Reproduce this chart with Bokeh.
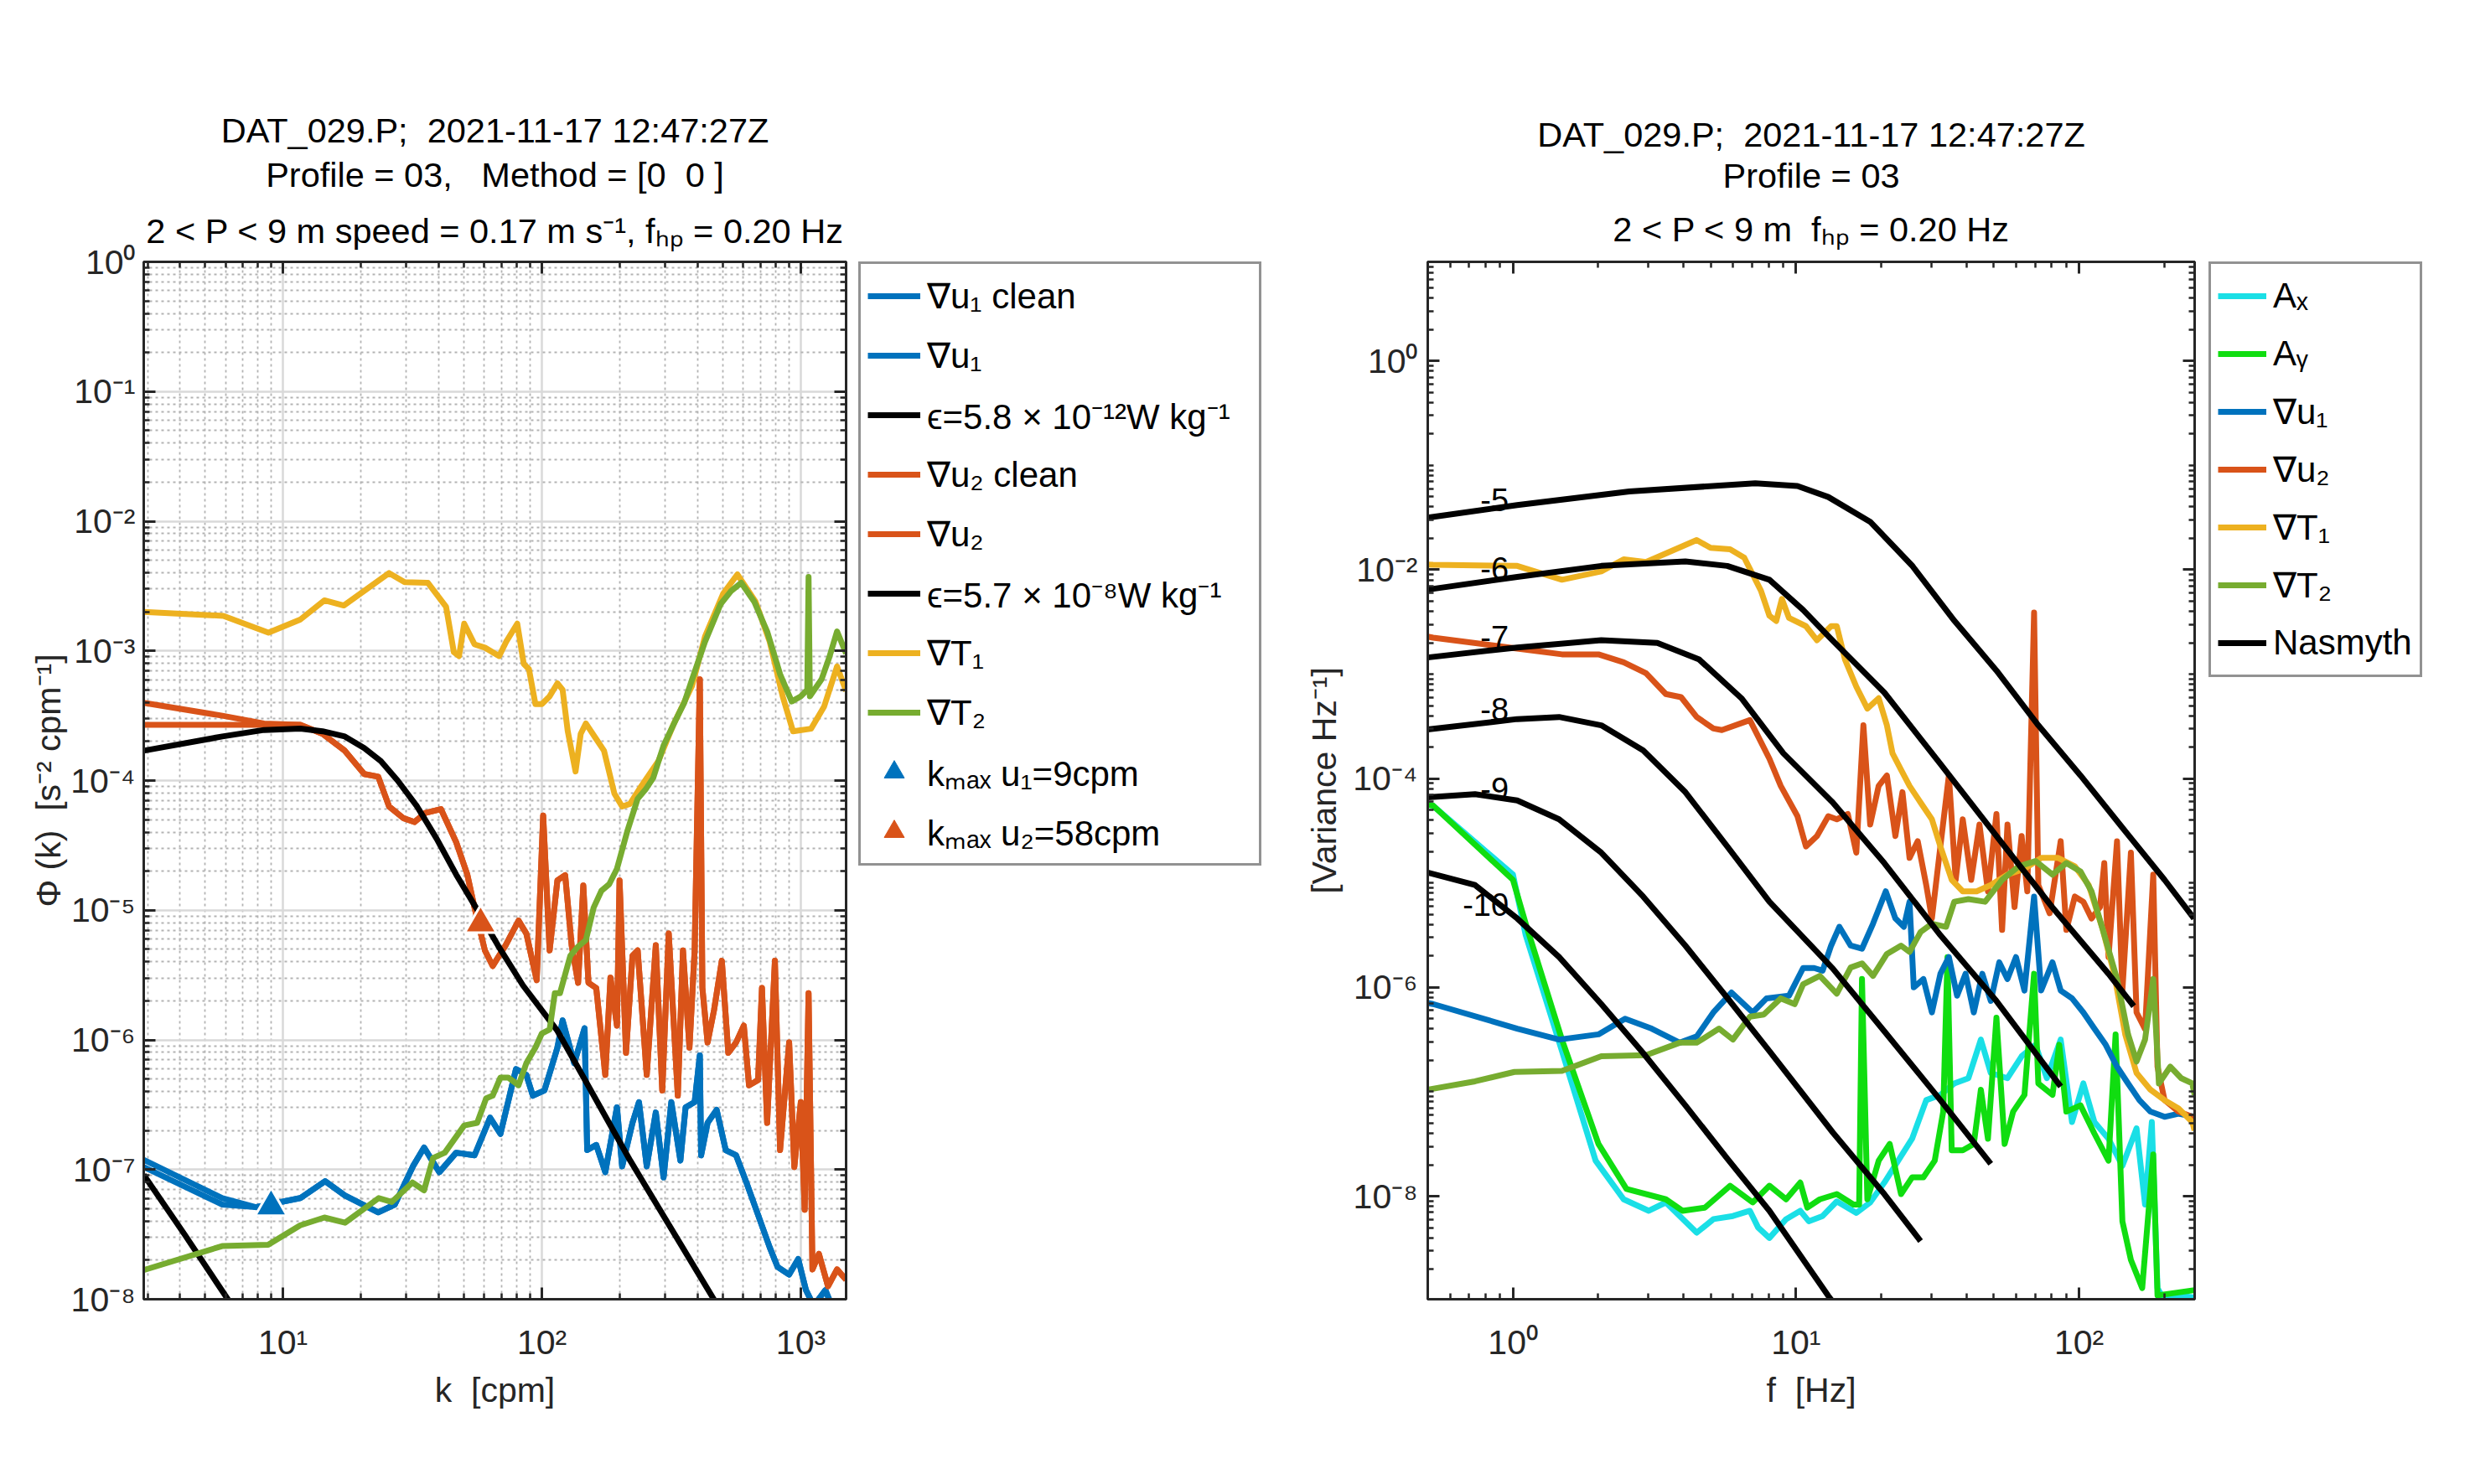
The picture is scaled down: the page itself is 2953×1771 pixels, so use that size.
import numpy as np
from bokeh.plotting import figure
from bokeh.models import (Range1d, LogAxis, FixedTicker, CustomJSTickFormatter,
                          Legend, LegendItem, Title)
from bokeh.layouts import row
from bokeh.embed import file_html
from bokeh.resources import INLINE
from bokeh.core.properties import value

# ============ LEFT PANEL DATA: (log10 k [cpm], log10 Phi) ============
gradT1_left = [(0.462,-2.70),(0.77,-2.73),(0.944,-2.86),(1.066,-2.76),(1.16,-2.61),(1.235,-2.65),
    (1.41,-2.40),(1.47,-2.47),(1.56,-2.475),(1.63,-2.66),(1.66,-3.01),(1.68,-3.04),(1.70,-2.79),
    (1.74,-2.95),(1.78,-2.975),(1.835,-3.04),(1.862,-2.93),(1.905,-2.79),(1.93,-3.10),(1.95,-3.14),
    (1.975,-3.41),(2.0,-3.41),(2.03,-3.35),(2.06,-3.25),(2.08,-3.30),(2.10,-3.62),(2.13,-3.93),
    (2.15,-3.64),(2.17,-3.56),(2.21,-3.68),(2.24,-3.77),(2.28,-4.10),(2.31,-4.20),(2.34,-4.18),
    (2.385,-4.04),(2.45,-3.85),(2.51,-3.56),(2.58,-3.27),(2.63,-2.89),(2.70,-2.56),(2.755,-2.41),
    (2.825,-2.62),(2.88,-2.93),(2.93,-3.35),(2.97,-3.62),(3.04,-3.60),(3.09,-3.43),(3.14,-3.12),(3.175,-3.31)]
gradT2_left = [(0.462,-7.775),(0.765,-7.59),(0.943,-7.58),(1.067,-7.43),(1.16,-7.37),(1.24,-7.41),
    (1.37,-7.22),(1.42,-7.25),(1.50,-7.10),(1.545,-7.16),(1.58,-6.91),(1.625,-6.87),(1.70,-6.66),
    (1.75,-6.64),(1.785,-6.45),(1.81,-6.43),(1.84,-6.29),(1.87,-6.29),(1.91,-6.35),(1.94,-6.18),
    (1.975,-6.06),(2.0,-5.95),(2.03,-5.92),(2.05,-5.64),(2.07,-5.64),(2.11,-5.35),(2.14,-5.28),
    (2.17,-5.23),(2.20,-4.98),(2.23,-4.85),(2.26,-4.80),(2.29,-4.68),(2.33,-4.39),(2.37,-4.14),
    (2.40,-4.07),(2.43,-3.98),(2.47,-3.73),(2.52,-3.52),(2.55,-3.40),(2.58,-3.22),(2.63,-2.93),
    (2.69,-2.64),(2.73,-2.54),(2.77,-2.475),(2.82,-2.62),(2.87,-2.85),(2.92,-3.18),(2.965,-3.39),
    (3.0,-3.35),(3.025,-3.30),(3.03,-2.43),(3.035,-3.35),(3.08,-3.22),(3.11,-3.05),(3.14,-2.85),(3.175,-3.02)]
gradu2_clean_left = [(0.462,-3.57),(0.766,-3.57),(0.927,-3.57),(1.067,-3.57),(1.153,-3.64),(1.239,-3.77),
    (1.314,-3.95),(1.368,-3.97),(1.41,-4.20),(1.465,-4.29),(1.508,-4.32),(1.55,-4.25),(1.61,-4.22),
    (1.669,-4.475),(1.712,-4.725),(1.74,-4.98),(1.78,-5.31),(1.81,-5.43),(1.86,-5.27),(1.91,-5.08),
    (1.94,-5.18),(1.98,-5.54),(2.005,-4.27),(2.03,-5.31),(2.06,-4.77),(2.09,-4.73),(2.115,-5.27),
    (2.14,-5.56),(2.16,-4.81),(2.18,-5.56),(2.21,-5.60),(2.245,-6.27),(2.265,-5.52),(2.29,-5.89),
    (2.30,-4.77),(2.325,-6.10),(2.35,-5.35),(2.37,-5.31),(2.405,-6.27),(2.44,-5.27),(2.465,-6.39),
    (2.49,-5.18),(2.525,-6.43),(2.545,-5.31),(2.57,-6.06),(2.59,-5.31),(2.61,-3.22),(2.62,-5.60),
    (2.64,-6.02),(2.665,-5.77),(2.695,-5.39),(2.72,-6.10),(2.75,-6.02),(2.78,-5.89),(2.80,-6.35),
    (2.835,-6.31),(2.85,-5.60),(2.87,-6.64),(2.90,-5.39),(2.92,-6.85),(2.955,-6.02),(2.975,-6.98),
    (3.0,-6.48),(3.015,-7.31),(3.03,-5.64),(3.045,-7.77),(3.07,-7.65),(3.105,-7.90),(3.14,-7.77),(3.175,-7.85)]
gradu2_left = [(0.462,-3.40),(0.766,-3.50),(0.927,-3.56)] + gradu2_clean_left[3:]
gradu1_clean_left = [(0.462,-6.98),(0.766,-7.27),(0.895,-7.29),(1.067,-7.22),(1.163,-7.09),(1.239,-7.20),
    (1.368,-7.33),(1.432,-7.27),(1.502,-6.975),(1.545,-6.83),(1.604,-7.02),(1.669,-6.87),(1.74,-6.89),
    (1.80,-6.60),(1.84,-6.725),(1.90,-6.225),(1.94,-6.27),(1.965,-6.43),(2.01,-6.39),(2.06,-6.06),
    (2.08,-5.85),(2.125,-6.18),(2.165,-5.91),(2.175,-6.85),(2.21,-6.81),(2.245,-7.02),(2.29,-6.52),
    (2.31,-6.975),(2.35,-6.64),(2.375,-6.48),(2.405,-6.975),(2.44,-6.56),(2.47,-7.06),(2.50,-6.48),
    (2.535,-6.93),(2.555,-6.52),(2.59,-6.48),(2.61,-6.12),(2.615,-6.89),(2.64,-6.64),(2.675,-6.54),
    (2.71,-6.85),(2.75,-6.89),(2.79,-7.10),(2.835,-7.35),(2.88,-7.60),(2.91,-7.75),(2.955,-7.81),
    (2.99,-7.69),(3.02,-7.93),(3.05,-8.05),(3.095,-7.93),(3.13,-8.10),(3.175,-8.10)]
gradu1_left = [(0.462,-6.925),(0.766,-7.22)] + gradu1_clean_left[2:]
nasmyth_eps1_left = [(0.462,-7.04),(0.62,-7.50),(0.787,-8.0),(0.85,-8.19)]
nasmyth_eps2_left = [(0.462,-3.77),(0.766,-3.66),(0.927,-3.61),(1.067,-3.60),(1.153,-3.62),(1.239,-3.66),
    (1.314,-3.75),(1.378,-3.85),(1.443,-4.0),(1.518,-4.20),(1.594,-4.45),(1.669,-4.725),(1.744,-4.975),
    (1.83,-5.27),(1.927,-5.58),(2.06,-5.93),(2.341,-6.93),(2.664,-8.0),(2.75,-8.3)]
kmax_k = [9.0, 58.0]
kmax_phi = [5.2e-8, 7.9e-6]

# ============ RIGHT PANEL DATA: (log10 f [Hz], log10 variance) ============
Ax_right = [(-0.301,-4.25),(-0.282,-4.26),(0.0,-4.92),(0.045,-5.50),(0.173,-6.61),(0.292,-7.66),(0.391,-8.03),
    (0.48,-8.14),(0.54,-8.06),(0.649,-8.35),(0.708,-8.22),(0.777,-8.19),(0.837,-8.14),(0.866,-8.30),
    (0.906,-8.40),(0.965,-8.22),(1.015,-8.14),(1.045,-8.24),(1.094,-8.19),(1.144,-8.05),(1.163,-8.08),
    (1.213,-8.16),(1.262,-8.06),(1.312,-7.87),(1.361,-7.66),(1.41,-7.45),(1.46,-7.08),(1.51,-7.03),
    (1.559,-6.92),(1.609,-6.87),(1.653,-6.50),(1.688,-6.82),(1.747,-6.87),(1.797,-6.66),(1.846,-6.55),
    (1.886,-6.87),(1.935,-6.50),(1.975,-7.29),(2.015,-6.92),(2.054,-7.29),(2.104,-7.45),(2.153,-7.71),
    (2.203,-7.35),(2.233,-8.08),(2.257,-7.29),(2.277,-8.88),(2.302,-9.0),(2.35,-8.95),(2.408,-8.97)]
Ay_right = [(-0.301,-4.25),(-0.282,-4.26),(0.0,-4.97),(0.045,-5.39),(0.173,-6.50),(0.302,-7.50),(0.401,-7.93),
    (0.54,-8.03),(0.599,-8.14),(0.678,-8.11),(0.767,-7.90),(0.847,-8.06),(0.906,-7.90),(0.965,-8.03),
    (1.015,-7.87),(1.04,-8.11),(1.084,-8.03),(1.144,-7.98),(1.203,-8.08),(1.223,-8.08),(1.233,-5.92),
    (1.252,-8.03),(1.292,-7.66),(1.331,-7.50),(1.371,-7.98),(1.41,-7.82),(1.45,-7.82),(1.49,-7.66),
    (1.52,-7.19),(1.535,-5.71),(1.55,-7.56),(1.589,-7.56),(1.628,-7.50),(1.653,-6.98),(1.678,-7.45),
    (1.708,-6.29),(1.737,-7.50),(1.767,-7.19),(1.807,-7.03),(1.841,-5.87),(1.856,-6.92),(1.906,-7.03),
    (1.93,-6.55),(1.955,-7.19),(2.005,-7.13),(2.054,-7.40),(2.104,-7.66),(2.129,-6.45),(2.153,-8.24),
    (2.183,-8.61),(2.223,-8.88),(2.262,-7.60),(2.277,-8.95),(2.33,-8.93),(2.408,-8.90)]
gradu1_right = [(-0.301,-6.15),(-0.282,-6.16),(0.015,-6.395),(0.163,-6.50),(0.302,-6.45),(0.396,-6.30),
    (0.49,-6.395),(0.589,-6.53),(0.649,-6.47),(0.708,-6.24),(0.772,-6.05),(0.847,-6.24),(0.896,-6.105),
    (0.975,-6.08),(1.025,-5.815),(1.064,-5.815),(1.094,-5.84),(1.124,-5.60),(1.153,-5.42),(1.193,-5.60),
    (1.233,-5.63),(1.272,-5.39),(1.317,-5.08),(1.351,-5.34),(1.381,-5.42),(1.401,-5.18),(1.416,-6.0),
    (1.45,-5.92),(1.48,-6.24),(1.51,-5.87),(1.54,-5.71),(1.569,-6.08),(1.599,-5.87),(1.628,-6.24),
    (1.658,-5.87),(1.688,-6.13),(1.718,-5.76),(1.747,-5.92),(1.777,-5.71),(1.807,-6.03),(1.841,-5.13),
    (1.866,-6.03),(1.906,-5.76),(1.935,-6.03),(1.975,-6.105),(2.015,-6.24),(2.054,-6.395),(2.094,-6.55),
    (2.134,-6.76),(2.173,-6.92),(2.213,-7.08),(2.252,-7.19),(2.302,-7.24),(2.351,-7.21),(2.408,-7.24)]
gradu2_right = [(-0.301,-2.64),(-0.282,-2.65),(0.015,-2.754),(0.173,-2.81),(0.302,-2.81),(0.391,-2.886),
    (0.47,-2.99),(0.54,-3.19),(0.594,-3.22),(0.649,-3.41),(0.708,-3.52),(0.738,-3.535),(0.837,-3.44),
    (0.906,-3.81),(0.946,-4.07),(1.005,-4.36),(1.035,-4.65),(1.074,-4.55),(1.114,-4.36),(1.144,-4.39),
    (1.183,-4.34),(1.213,-4.71),(1.238,-3.49),(1.262,-4.44),(1.292,-4.07),(1.321,-3.97),(1.351,-4.55),
    (1.376,-4.13),(1.401,-4.76),(1.43,-4.60),(1.46,-5.02),(1.48,-5.34),(1.51,-4.65),(1.54,-3.97),
    (1.564,-4.97),(1.589,-4.39),(1.619,-4.97),(1.648,-4.44),(1.678,-5.08),(1.708,-4.34),(1.728,-5.45),
    (1.747,-4.44),(1.772,-5.23),(1.797,-4.55),(1.817,-5.08),(1.841,-2.41),(1.856,-5.02),(1.896,-5.29),
    (1.935,-4.60),(1.955,-5.45),(1.985,-5.13),(2.015,-5.18),(2.044,-5.34),(2.074,-5.23),(2.089,-4.81),
    (2.104,-5.71),(2.134,-4.60),(2.153,-6.03),(2.183,-4.71),(2.203,-6.24),(2.233,-6.40),(2.262,-4.92),
    (2.277,-6.76),(2.302,-7.08),(2.351,-7.19),(2.40,-7.24),(2.408,-7.29)]
gradT1_right = [(-0.301,-1.95),(-0.282,-1.952),(0.015,-1.963),(0.173,-2.095),(0.312,-2.015),(0.391,-1.90),
    (0.47,-1.926),(0.649,-1.715),(0.698,-1.79),(0.767,-1.804),(0.817,-1.884),(0.876,-2.20),(0.906,-2.44),
    (0.93,-2.49),(0.95,-2.28),(0.975,-2.46),(1.035,-2.54),(1.074,-2.675),(1.124,-2.54),(1.144,-2.54),
    (1.173,-2.86),(1.213,-3.12),(1.252,-3.33),(1.292,-3.23),(1.321,-3.49),(1.341,-3.76),(1.371,-3.915),
    (1.401,-4.07),(1.44,-4.23),(1.48,-4.39),(1.51,-4.65),(1.55,-4.97),(1.589,-5.08),(1.638,-5.08),
    (1.688,-5.02),(1.747,-4.92),(1.807,-4.865),(1.866,-4.76),(1.926,-4.76),(1.985,-4.84),(2.034,-5.02),
    (2.084,-5.45),(2.124,-5.87),(2.163,-6.45),(2.203,-6.82),(2.252,-6.98),(2.302,-7.08),(2.351,-7.16),
    (2.40,-7.29),(2.408,-7.37)]
gradT2_right = [(-0.301,-6.98),(-0.134,-6.90),(0.005,-6.81),(0.173,-6.80),(0.312,-6.66),(0.47,-6.65),
    (0.589,-6.53),(0.649,-6.53),(0.728,-6.395),(0.777,-6.50),(0.837,-6.28),(0.886,-6.26),(0.946,-6.105),
    (0.995,-6.16),(1.025,-5.97),(1.084,-5.89),(1.144,-6.06),(1.193,-5.81),(1.233,-5.77),(1.272,-5.89),
    (1.321,-5.68),(1.371,-5.60),(1.401,-5.66),(1.44,-5.47),(1.48,-5.39),(1.53,-5.42),(1.559,-5.18),
    (1.609,-5.155),(1.668,-5.18),(1.728,-4.97),(1.787,-4.84),(1.846,-4.79),(1.906,-4.92),(1.955,-4.81),
    (2.005,-4.89),(2.044,-5.08),(2.084,-5.45),(2.134,-5.92),(2.173,-6.45),(2.203,-6.71),(2.233,-6.50),
    (2.262,-5.92),(2.282,-6.92),(2.322,-6.76),(2.361,-6.87),(2.40,-6.92),(2.408,-7.03)]
nasmyth_right = {
    "-5": [(-0.301,-1.50),(0.015,-1.38),(0.411,-1.25),(0.856,-1.171),(1.005,-1.197),(1.114,-1.303),
           (1.262,-1.54),(1.41,-1.96),(1.56,-2.49),(1.708,-2.965),(1.856,-3.49),(2.005,-3.97),
           (2.153,-4.47),(2.302,-4.97),(2.406,-5.34)],
    "-6": [(-0.301,-2.19),(0.015,-2.068),(0.312,-1.963),(0.609,-1.92),(0.757,-1.963),(0.906,-2.095),
           (1.025,-2.385),(1.13,-2.68),(1.312,-3.176),(1.51,-3.86),(1.708,-4.55),(1.906,-5.235),
           (2.104,-5.87),(2.193,-6.18)],
    "-7": [(-0.301,-2.84),(0.015,-2.744),(0.312,-2.675),(0.51,-2.70),(0.658,-2.86),(0.807,-3.23),
           (0.955,-3.757),(1.13,-4.23),(1.312,-4.81),(1.51,-5.50),(1.708,-6.13),(1.935,-6.95)],
    "-8": [(-0.301,-3.53),(0.015,-3.43),(0.163,-3.41),(0.312,-3.49),(0.46,-3.73),(0.609,-4.13),
           (0.757,-4.65),(0.906,-5.18),(1.13,-5.82),(1.312,-6.42),(1.51,-7.08),(1.688,-7.69)],
    "-9": [(-0.301,-4.18),(-0.134,-4.15),(0.015,-4.21),(0.163,-4.39),(0.312,-4.71),(0.46,-5.13),
           (0.609,-5.60),(0.757,-6.10),(0.906,-6.61),(1.13,-7.39),(1.312,-7.98),(1.44,-8.43)],
    "-10": [(-0.301,-4.90),(-0.134,-5.02),(0.015,-5.34),(0.163,-5.71),(0.312,-6.16),(0.46,-6.63),
            (0.609,-7.13),(0.757,-7.64),(0.906,-8.14),(1.114,-8.955),(1.16,-9.12)],
}
nas_label_text = ["-5", "-6", "-7", "-8", "-9", "-10"]
nas_label_logf = [-0.015, -0.015, -0.015, -0.015, -0.015, -0.015]
nas_label_logv = [-1.33, -1.99, -2.65, -3.335, -4.10, -5.21]

# ============ STYLE ============
BLUE, ORANGE, YELLOW, GREEN = "#0072BD", "#D95319", "#EDB120", "#77AC30"
CYAN, LIME = "#1ADFE6", "#10DD10"
AX = "#262626"
FONT = "Liberation Sans"
LW = 7
FH = 1238
FW1, FW2 = 838, 915
TOP = 312
BOTTOM = 150
ROW_H = TOP + FH + BOTTOM

def unpack(pairs):
    a = np.array(pairs, dtype=float)
    return np.power(10.0, a[:, 0]), np.power(10.0, a[:, 1])

def decade_minors(e0, e1, lo, hi):
    out = []
    for e in range(e0, e1 + 1):
        for m in range(2, 10):
            v = m * 10.0 ** e
            if lo <= v <= hi:
                out.append(v)
    return out

SUP_JS = r"""
const sup = {"-":"\u207b","0":"\u2070","1":"\u00b9","2":"\u00b2","3":"\u00b3","4":"\u2074",
             "5":"\u2075","6":"\u2076","7":"\u2077","8":"\u2078","9":"\u2079"};
const e = Math.round(Math.log10(tick));
let s = "10";
for (const c of String(e)) { s += sup[c]; }
return s;
"""

def style_axis(ax, labels=True):
    ax.axis_line_color = AX
    ax.axis_line_width = 3
    ax.major_tick_in = 14
    ax.major_tick_out = 0
    ax.minor_tick_in = 7
    ax.minor_tick_out = 0
    ax.major_tick_line_color = AX
    ax.major_tick_line_width = 3
    ax.minor_tick_line_color = AX
    ax.minor_tick_line_width = 2.5
    ax.major_label_text_font = FONT
    ax.major_label_text_font_size = "41px"
    ax.major_label_text_color = AX
    ax.axis_label_text_font = FONT
    ax.axis_label_text_font_size = "41px"
    ax.axis_label_text_font_style = "normal"
    ax.axis_label_text_color = AX
    if labels:
        ax.formatter = CustomJSTickFormatter(code=SUP_JS)
    else:
        ax.formatter = CustomJSTickFormatter(code="return '';")
        ax.major_label_standoff = 0

def make_fig(xr, yr, fw, bl, br):
    p = figure(x_axis_type="log", y_axis_type="log", x_range=xr, y_range=yr,
               frame_width=fw, frame_height=FH, min_border_left=bl, min_border_right=br,
               min_border_top=TOP, min_border_bottom=BOTTOM, title_location=None,
               output_backend="svg", toolbar_location=None,
               background_fill_color="white", border_fill_color="white")
    p.outline_line_color = AX
    p.outline_line_width = 3
    return p

def add_box_axes(p, xt, yt):
    top = LogAxis(ticker=xt)
    right = LogAxis(ticker=yt)
    style_axis(top, labels=False)
    style_axis(right, labels=False)
    p.add_layout(top, "above")
    p.add_layout(right, "right")

def add_titles(p, lines):
    # lines listed from the frame upwards: (text, standoff)
    for txt, so in lines:
        p.add_layout(Title(text=txt, align="center", text_font=FONT, text_font_size="41.5px",
                           text_font_style="normal", text_color="black", standoff=so), "above")

def line(p, pairs, color, width=LW):
    x, y = unpack(pairs)
    return p.line(x, y, line_color=color, line_width=width, line_join="round")

def legend_fig(width, entries, glyph_w, label_w, spacing):
    # separate legend panel; its entries use invisible (NaN) proxy renderers with the same styles
    lf = figure(width=width, height=ROW_H, x_range=Range1d(0, 1), y_range=Range1d(0, 1),
                min_border_left=0, min_border_right=0, min_border_top=TOP, min_border_bottom=BOTTOM,
                x_axis_location=None, y_axis_location=None, title_location=None,
                output_backend="svg", toolbar_location=None,
                background_fill_color="white", border_fill_color="white")
    lf.outline_line_color = None
    lf.grid.visible = False
    nan2 = [float("nan"), float("nan")]
    items = []
    for label, kind, color in entries:
        if kind == "line":
            r = lf.line(nan2, nan2, line_color=color, line_width=LW)
        else:
            r = lf.scatter(nan2[:1], nan2[:1], marker="triangle", size=30, fill_color=color, line_color=color)
        items.append(LegendItem(label=label, renderers=[r]))
    leg = Legend(items=items, location="top_left", label_text_font=FONT, label_text_font_size="42px",
                 label_text_color="black", glyph_width=glyph_w, glyph_height=60, label_height=60,
                 label_width=label_w, label_standoff=8, spacing=spacing, padding=8, margin=0,
                 border_line_color=AX, border_line_width=3,
                 background_fill_color="white", background_fill_alpha=1.0)
    lf.add_layout(leg)
    return lf

# ============ LEFT FIGURE ============
p1 = make_fig(Range1d(2.9, 1496), Range1d(1e-8, 1.0), FW1, 171, 15)
xt1 = FixedTicker(ticks=[10.0, 100.0, 1000.0], minor_ticks=decade_minors(0, 3, 2.9, 1496))
yt1 = FixedTicker(ticks=[10.0 ** e for e in range(-8, 1)], minor_ticks=decade_minors(-8, -1, 1e-8, 1))
p1.xaxis.ticker = xt1
p1.yaxis.ticker = yt1
p1.xgrid.ticker = xt1
p1.ygrid.ticker = yt1
style_axis(p1.xaxis[0])
style_axis(p1.yaxis[0])
p1.xaxis.major_label_standoff = 28
p1.yaxis.major_label_standoff = 10
p1.xaxis.axis_label = "k\u00a0 [cpm]"
p1.yaxis.axis_label = "\u03a6 (k)\u00a0 [s\u207b\u00b2 cpm\u207b\u00b9]"
p1.xaxis.axis_label_standoff = 8
p1.yaxis.axis_label_standoff = 0
add_box_axes(p1, xt1, yt1)
add_titles(p1, [("2 < P < 9 m speed = 0.17 m s\u207b\u00b9, f\u2095\u209a = 0.20 Hz", 28),
                ("Profile = 03,\u00a0 \u00a0Method = [0\u00a0 0 ]", 8),
                ("DAT_029.P;\u00a0 2021-11-17 12:47:27Z", 0)])
for g in (p1.xgrid[0], p1.ygrid[0]):
    g.grid_line_color = "#d9d9d9"
    g.grid_line_width = 2.5
    g.minor_grid_line_color = "#b3b3b3"
    g.minor_grid_line_width = 1.8
    g.minor_grid_line_dash = "3 4"

line(p1, gradu1_clean_left, BLUE)
line(p1, gradu1_left, BLUE)
line(p1, nasmyth_eps1_left, "black")
line(p1, gradu2_clean_left, ORANGE)
line(p1, gradu2_left, ORANGE)
line(p1, nasmyth_eps2_left, "black")
line(p1, gradT1_left, YELLOW)
line(p1, gradT2_left, GREEN)
p1.scatter(kmax_k[:1], kmax_phi[:1], marker="triangle", size=38,
           fill_color=BLUE, line_color="white", line_width=3)
p1.scatter(kmax_k[1:], kmax_phi[1:], marker="triangle", size=38,
           fill_color=ORANGE, line_color="white", line_width=3)

lf1 = legend_fig(508, [
    ("\u2207u\u2081 clean", "line", BLUE), ("\u2207u\u2081", "line", BLUE),
    ("\u03f5=5.8 \u00d7 10\u207b\u00b9\u00b2W kg\u207b\u00b9", "line", "black"),
    ("\u2207u\u2082 clean", "line", ORANGE), ("\u2207u\u2082", "line", ORANGE),
    ("\u03f5=5.7 \u00d7 10\u207b\u2078W kg\u207b\u00b9", "line", "black"),
    ("\u2207T\u2081", "line", YELLOW), ("\u2207T\u2082", "line", GREEN),
    ("k\u2098\u2090\u2093 u\u2081=9cpm", "tri", BLUE), ("k\u2098\u2090\u2093 u\u2082=58cpm", "tri", ORANGE),
], 63, 388, 11)

# ============ RIGHT FIGURE ============
p2 = make_fig(Range1d(0.5, 256), Range1d(1.03e-9, 8.9), FW2, 171, 17)
xt2 = FixedTicker(ticks=[1.0, 10.0, 100.0], minor_ticks=decade_minors(-1, 2, 0.5, 256))
yt2 = FixedTicker(ticks=[1e-8, 1e-6, 1e-4, 1e-2, 1.0],
                  minor_ticks=[10.0 ** e for e in (-9, -7, -5, -3, -1)] + decade_minors(-9, 0, 1.03e-9, 8.9))
p2.xaxis.ticker = xt2
p2.yaxis.ticker = yt2
style_axis(p2.xaxis[0])
style_axis(p2.yaxis[0])
p2.xaxis.major_label_standoff = 28
p2.yaxis.major_label_standoff = 12
p2.xaxis.axis_label = "f\u00a0 [Hz]"
p2.yaxis.axis_label = "[Variance Hz\u207b\u00b9]"
p2.xaxis.axis_label_standoff = 8
p2.yaxis.axis_label_standoff = 8
p2.xgrid.visible = False
p2.ygrid.visible = False
add_box_axes(p2, xt2, yt2)
add_titles(p2, [("2 < P < 9 m\u00a0 f\u2095\u209a = 0.20 Hz", 31),
                ("Profile = 03", 0),
                ("DAT_029.P;\u00a0 2021-11-17 12:47:27Z", 0)])

line(p2, Ax_right, CYAN)
line(p2, Ay_right, LIME)
line(p2, gradu1_right, BLUE)
line(p2, gradu2_right, ORANGE)
line(p2, gradT1_right, YELLOW)
line(p2, gradT2_right, GREEN)
nas_xs, nas_ys = [], []
for key in nas_label_text:
    xx, yy = unpack(nasmyth_right[key])
    nas_xs.append(list(xx))
    nas_ys.append(list(yy))
p2.multi_line(nas_xs, nas_ys, line_color="black", line_width=LW, line_join="round")
p2.text(x=list(np.power(10.0, nas_label_logf)), y=list(np.power(10.0, nas_label_logv)),
        text=nas_label_text, text_align="right", text_baseline="middle",
        text_font=value(FONT), text_font_size="38px", text_color="black")

lf2 = legend_fig(302, [
    ("A\u2093", "line", CYAN), ("A\u1d67", "line", LIME), ("\u2207u\u2081", "line", BLUE),
    ("\u2207u\u2082", "line", ORANGE), ("\u2207T\u2081", "line", YELLOW), ("\u2207T\u2082", "line", GREEN),
    ("Nasmyth", "line", "black"),
], 58, 167, 9)

layout = row(p1, lf1, p2, lf2)
open("out.html", "w").write(file_html(layout, INLINE))
